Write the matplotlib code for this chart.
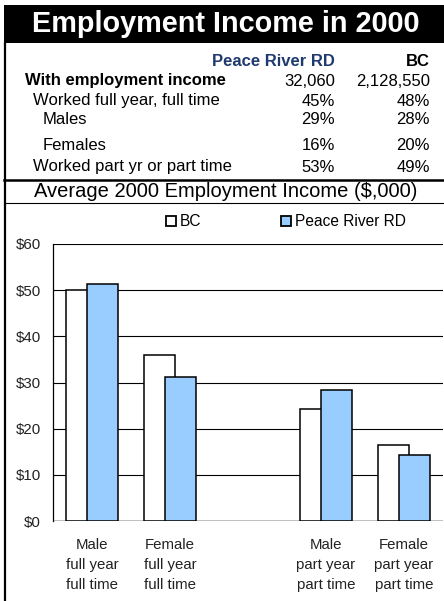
import numpy as np
import matplotlib
matplotlib.use('Agg')
import matplotlib.pyplot as plt
from matplotlib.lines import Line2D
from matplotlib.patches import Rectangle, Patch

plt.rcParams['font.family'] = ['Liberation Sans', 'DejaVu Sans']

W, H = 444, 601

# table data
row_labels = ['With employment income', 'Worked full year, full time', 'Males',
              'Females', 'Worked part yr or part time']
pr_values = ['32,060', '45%', '29%', '16%', '53%']
bc_values = ['2,128,550', '48%', '28%', '20%', '49%']

# chart data ($,000)
categories = ['Male\nfull year\nfull time', 'Female\nfull year\nfull time', '',
              'Male\npart year\npart time', 'Female\npart year\npart time']
bc_income = [50.1, 35.9, np.nan, 24.2, 16.4]
pr_income = [51.4, 31.2, np.nan, 28.4, 14.3]
yticks = [0, 10, 20, 30, 40, 50, 60]

def fx(px):
    return px / W

def fy(py):
    return 1 - py / H

fig = plt.figure(figsize=(W / 100, H / 100), dpi=100)

# title band
fig.add_artist(Rectangle((fx(4), fy(43)), 1 - fx(4), fy(5) - fy(43),
                         transform=fig.transFigure, facecolor='black', edgecolor='none'))
fig.text(fx(226), fy(24), 'Employment Income in 2000', color='white', fontsize=20.8,
         fontweight='bold', ha='center', va='center')

# frame lines
fig.add_artist(Line2D([fx(4.5), fx(4.5)], [fy(43), 0], transform=fig.transFigure,
                      color='black', lw=1.6))
fig.add_artist(Line2D([fx(4), 1], [fy(180), fy(180)], transform=fig.transFigure,
                      color='black', lw=1.8))
fig.add_artist(Line2D([fx(4), 1], [fy(203), fy(203)], transform=fig.transFigure,
                      color='black', lw=0.8))

# table
tfs = 12
fig.text(fx(335), fy(62), 'Peace River RD', color='#1F3A6E', fontsize=tfs,
         fontweight='bold', ha='right', va='center')
fig.text(fx(430), fy(62), 'BC', color='black', fontsize=tfs,
         fontweight='bold', ha='right', va='center')
row_y = [81, 101, 120, 145, 167]
row_x = [25, 33, 43, 43, 33]
for i in range(len(row_labels)):
    fw = 'bold' if i == 0 else 'normal'
    fig.text(fx(row_x[i]), fy(row_y[i]), row_labels[i], fontsize=tfs, fontweight=fw,
             ha='left', va='center')
    fig.text(fx(335), fy(row_y[i]), pr_values[i], fontsize=tfs, ha='right', va='center')
    fig.text(fx(430), fy(row_y[i]), bc_values[i], fontsize=tfs, ha='right', va='center')

fig.text(fx(226), fy(192), 'Average 2000 Employment Income ($,000)', fontsize=14.5,
         ha='center', va='center')

# bar chart
ax = fig.add_axes([fx(53), fy(521), fx(443) - fx(53), fy(244) - fy(521)])
x = np.arange(len(categories))
w = 0.386
off = 0.135
ax.bar(x - off, bc_income, w, color='white', edgecolor='black', linewidth=1.1, zorder=2)
ax.bar(x + off, pr_income, w, color='#99CCFF', edgecolor='black', linewidth=1.1, zorder=3)

ax.set_xlim(-0.5, 4.5)
ax.set_ylim(0, 60)
ax.set_yticks(yticks)
ax.set_yticklabels(['$%d' % v for v in yticks], fontsize=10.8, color='#222222')
ax.set_xticks(x)
ax.set_xticklabels(categories, fontsize=10.8, linespacing=1.55, color='#222222')
ax.tick_params(length=0)
ax.tick_params(axis='y', pad=8.5)
ax.tick_params(axis='x', pad=12.5)
ax.yaxis.grid(True, color='black', lw=0.8)
ax.set_axisbelow(True)
for s in ['top', 'right', 'bottom']:
    ax.spines[s].set_visible(False)
ax.spines['left'].set_linewidth(0.9)
ax.axhline(0, color='black', lw=1.0, zorder=1)

handles = [Patch(facecolor='white', edgecolor='black', linewidth=1.3, label='BC'),
           Patch(facecolor='#99CCFF', edgecolor='black', linewidth=1.3, label='Peace River RD')]
fig.legend(handles=handles, loc='center', bbox_to_anchor=(fx(286), fy(222)), ncol=2,
           frameon=False, fontsize=11.2, handlelength=0.65, handleheight=0.65,
           handletextpad=0.25, columnspacing=5.1)

fig.savefig('out.png', dpi=100)
